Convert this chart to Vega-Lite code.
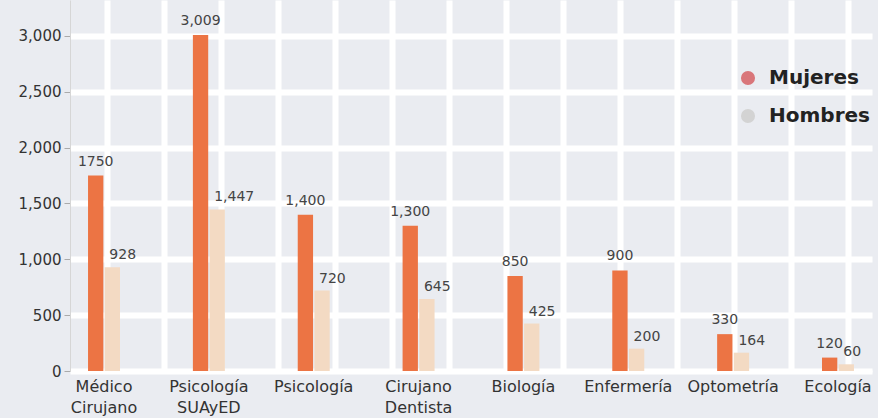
{
  "$schema": "https://vega.github.io/schema/vega-lite/v6.json",
  "width": 802,
  "height": 371,
  "autosize": "none",
  "padding": {"left": 70, "top": 0, "right": 6, "bottom": 47},
  "background": "#EAECF1",
  "config": {"view": {"stroke": null}, "font": "DejaVu Sans"},
  "data": {
    "values": [
      {"carrera": "Médico Cirujano", "genero": "Mujeres", "valor": 1750, "label": "1750"},
      {"carrera": "Médico Cirujano", "genero": "Hombres", "valor": 928, "label": "928"},
      {"carrera": "Psicología SUAyED", "genero": "Mujeres", "valor": 3009, "label": "3,009"},
      {"carrera": "Psicología SUAyED", "genero": "Hombres", "valor": 1447, "label": "1,447"},
      {"carrera": "Psicología", "genero": "Mujeres", "valor": 1400, "label": "1,400"},
      {"carrera": "Psicología", "genero": "Hombres", "valor": 720, "label": "720"},
      {"carrera": "Cirujano Dentista", "genero": "Mujeres", "valor": 1300, "label": "1,300"},
      {"carrera": "Cirujano Dentista", "genero": "Hombres", "valor": 645, "label": "645"},
      {"carrera": "Biología", "genero": "Mujeres", "valor": 850, "label": "850"},
      {"carrera": "Biología", "genero": "Hombres", "valor": 425, "label": "425"},
      {"carrera": "Enfermería", "genero": "Mujeres", "valor": 900, "label": "900"},
      {"carrera": "Enfermería", "genero": "Hombres", "valor": 200, "label": "200"},
      {"carrera": "Optometría", "genero": "Mujeres", "valor": 330, "label": "330"},
      {"carrera": "Optometría", "genero": "Hombres", "valor": 164, "label": "164"},
      {"carrera": "Ecología", "genero": "Mujeres", "valor": 120, "label": "120"},
      {"carrera": "Ecología", "genero": "Hombres", "valor": 60, "label": "60"}
    ]
  },
  "layer": [
    {
      "mark": {"type": "point", "opacity": 0},
      "encoding": {
        "x": {
          "datum": 0,
          "type": "quantitative",
          "scale": {"domain": [0, 14.07], "nice": false, "zero": false},
          "axis": {
            "orient": "top",
            "grid": true,
            "gridColor": "#ffffff",
            "gridWidth": 6,
            "gridOpacity": 1,
            "values": [0.65, 1.65, 2.65, 3.65, 4.65, 5.65, 6.65, 7.65, 8.65, 9.65, 10.65, 11.65, 12.65, 13.65],
            "labels": false,
            "ticks": false,
            "domain": false,
            "title": null
          }
        }
      }
    },
    {
      "encoding": {
        "x": {
          "field": "carrera",
          "type": "nominal",
          "sort": null,
          "scale": {"paddingInner": 0.695, "paddingOuter": 0.172},
          "axis": {
            "title": null,
            "labelAngle": 0,
            "labelExpr": "split(datum.label, ' ')",
            "labelFontSize": 16,
            "labelColor": "#333333",
            "labelPadding": 7,
            "labelLineHeight": 21,
            "ticks": false,
            "domainColor": "#ffffff",
            "domainWidth": 2
          }
        },
        "y": {
          "field": "valor",
          "type": "quantitative",
          "scale": {"domain": [0, 3322], "nice": false},
          "axis": {
            "title": null,
            "values": [0, 500, 1000, 1500, 2000, 2500, 3000],
            "format": ",.0f",
            "labelFontSize": 15,
            "labelColor": "#333333",
            "tickColor": "#aaaaaa",
            "tickSize": 6,
            "labelPadding": 3,
            "domainColor": "#d6d6d6",
            "grid": true,
            "gridColor": "#ffffff",
            "gridWidth": 6,
            "gridOpacity": 1
          }
        },
        "xOffset": {"field": "genero", "type": "nominal", "sort": ["Mujeres", "Hombres"], "scale": {"paddingInner": 0.08}}
      },
      "layer": [
        {
          "mark": {"type": "bar"},
          "encoding": {
            "color": {
              "field": "genero",
              "type": "nominal",
              "sort": ["Mujeres", "Hombres"],
              "scale": {"domain": ["Mujeres", "Hombres"], "range": ["#EC7444", "#F3DAC3"]},
              "legend": {
                "orient": "none",
                "legendX": 668,
                "legendY": 68,
                "title": null,
                "labelFontSize": 20,
                "labelFontWeight": "bold",
                "labelColor": "#222222",
                "symbolSize": 50,
                "symbolType": "circle",
                "rowPadding": 2,
                "labelOffset": 11,
                "encode": {
                  "symbols": {
                    "update": {
                      "stroke": [
                        {"test": "datum.value === 'Mujeres'", "value": "#D9767A"},
                        {"value": "#D3D3D3"}
                      ],
                      "strokeWidth": {"value": 7}
                    }
                  }
                }
              }
            }
          }
        },
        {
          "transform": [{"filter": "datum.genero === 'Mujeres'"}],
          "mark": {"type": "text", "baseline": "alphabetic", "dy": -10, "fontSize": 14, "color": "#444444"},
          "encoding": {"text": {"field": "label"}}
        },
        {
          "transform": [{"filter": "datum.genero === 'Hombres'"}],
          "mark": {"type": "text", "align": "left", "baseline": "alphabetic", "dx": -3, "dy": -8, "fontSize": 14, "color": "#444444"},
          "encoding": {"text": {"field": "label"}}
        }
      ]
    }
  ],
  "resolve": {"scale": {"x": "independent"}, "axis": {"x": "independent"}}
}
